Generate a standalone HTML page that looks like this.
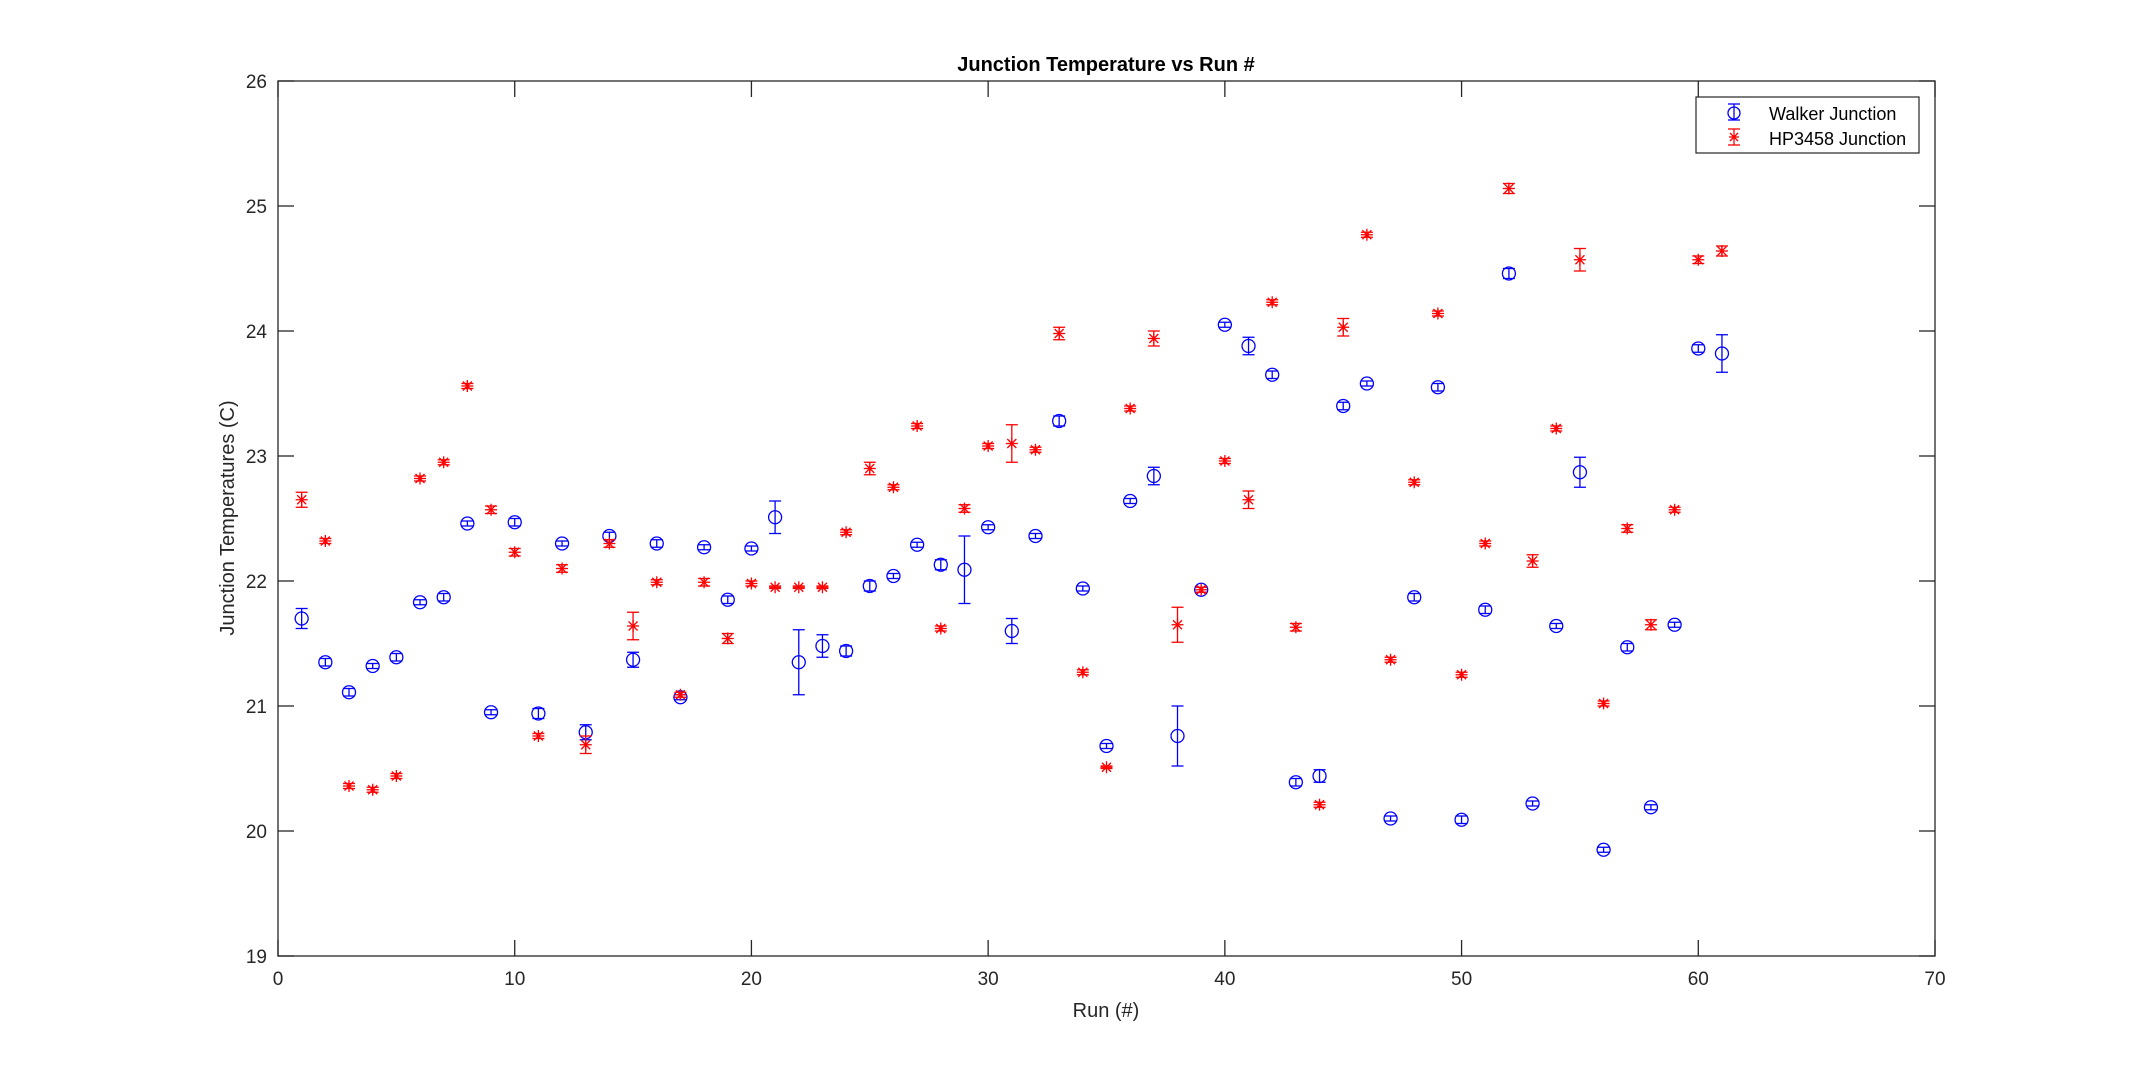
<!DOCTYPE html>
<html><head><meta charset="utf-8"><style>
html,body{margin:0;padding:0;background:#fff;}
svg{display:block;font-family:"Liberation Sans",Arial,sans-serif;}
</style></head><body>
<svg id="s" width="2138" height="1075" xmlns="http://www.w3.org/2000/svg">
<rect x="0" y="0" width="2138" height="1075" fill="#fff"/>
<g id="plot"></g>
<rect x="278" y="81" width="1657" height="875" fill="none" stroke="#262626" stroke-width="1.3"/>
<g id="ticks" stroke="#262626" stroke-width="1.3"></g>
<g id="labels" fill="#262626" font-size="19"></g>
<text x="1106" y="71" text-anchor="middle" font-size="20" font-weight="bold" fill="#000">Junction Temperature vs Run #</text>
<text x="1106" y="1017" text-anchor="middle" font-size="20" fill="#262626">Run (#)</text>
<text transform="translate(234,518) rotate(-90)" text-anchor="middle" font-size="20" fill="#262626">Junction Temperatures (C)</text>
<rect x="1696" y="97" width="223" height="56" fill="#fff" stroke="#262626" stroke-width="1.2"/>
<g stroke="#0000ff" stroke-width="1.3" fill="none">
<line x1="1734" y1="104" x2="1734" y2="120"/><line x1="1728" y1="104" x2="1740" y2="104"/><line x1="1728" y1="120" x2="1740" y2="120"/><circle cx="1734" cy="113" r="6"/></g>
<g stroke="#ff0000" stroke-width="1.3">
<line x1="1734" y1="129" x2="1734" y2="145"/><line x1="1728" y1="129" x2="1740" y2="129"/><line x1="1728" y1="145" x2="1740" y2="145"/>
<line x1="1729" y1="137" x2="1739" y2="137"/><line x1="1730" y1="133" x2="1738" y2="141"/><line x1="1730" y1="141" x2="1738" y2="133"/></g>
<text x="1769" y="120" font-size="18" fill="#000">Walker Junction</text>
<text x="1769" y="145" font-size="18" fill="#000">HP3458 Junction</text>
</svg>
<script>
var X=function(v){return 278+v*1657/70;},Y=function(v){return 956-(v-19)*125;};
var ns="http://www.w3.org/2000/svg";
function el(p,t,a){var e=document.createElementNS(ns,t);for(var k in a)e.setAttribute(k,a[k]);p.appendChild(e);return e;}
var tk=document.getElementById('ticks'),lb=document.getElementById('labels'),pl=document.getElementById('plot');
for(var i=0;i<=70;i+=10){var x=X(i);el(tk,'line',{x1:x,y1:956,x2:x,y2:940});el(tk,'line',{x1:x,y1:81,x2:x,y2:97});
var t=el(lb,'text',{x:x,y:985,'text-anchor':'middle'});t.textContent=i;}
for(var j=19;j<=26;j++){var y=Y(j);el(tk,'line',{x1:278,y1:y,x2:294,y2:y});el(tk,'line',{x1:1935,y1:y,x2:1919,y2:y});
var t=el(lb,'text',{x:267,y:y+7,'text-anchor':'end'});t.textContent=j;}
var W=[[21.70,.08],[21.35,.03],[21.11,.03],[21.32,.02],[21.39,.03],[21.83,.02],[21.87,.03],[22.46,.02],[20.95,.02],[22.47,.03],[20.94,.04],[22.30,.02],[20.79,.06],[22.36,.03],[21.37,.06],[22.30,.03],[21.07,.02],[22.27,.02],[21.85,.03],[22.26,.02],[22.51,.13],[21.35,.26],[21.48,.09],[21.44,.04],[21.96,.04],[22.04,.02],[22.29,.02],[22.13,.04],[22.09,.27],[22.43,.02],[21.60,.10],[22.36,.02],[23.28,.04],[21.94,.02],[20.68,.02],[22.64,.02],[22.84,.07],[20.76,.24],[21.93,.02],[24.05,.02],[23.88,.07],[23.65,.03],[20.39,.03],[20.44,.05],[23.40,.03],[23.58,.02],[20.10,.02],[21.87,.03],[23.55,.03],[20.09,.03],[21.77,.03],[24.46,.04],[20.22,.02],[21.64,.02],[22.87,.12],[19.85,.02],[21.47,.03],[20.19,.02],[21.65,.02],[23.86,.03],[23.82,.15]];
var H=[[22.65,.06],[22.32,.02],[20.36,.02],[20.33,.02],[20.44,.02],[22.82,.02],[22.95,.02],[23.56,.02],[22.57,.03],[22.23,.03],[20.76,.02],[22.10,.03],[20.69,.07],[22.30,.03],[21.64,.11],[21.99,.02],[21.09,.02],[21.99,.03],[21.54,.04],[21.98,.02],[21.95,.01],[21.95,.01],[21.95,.01],[22.39,.02],[22.90,.05],[22.75,.02],[23.24,.02],[21.62,.02],[22.58,.03],[23.08,.02],[23.10,.15],[23.05,.02],[23.98,.05],[21.27,.02],[20.51,.01],[23.38,.02],[23.94,.06],[21.65,.14],[21.93,.02],[22.96,.02],[22.65,.07],[24.23,.02],[21.63,.03],[20.21,.02],[24.03,.07],[24.77,.02],[21.37,.02],[22.79,.02],[24.14,.02],[21.25,.02],[22.30,.02],[25.14,.04],[22.16,.05],[23.22,.02],[24.57,.09],[21.02,.02],[22.42,.03],[21.65,.04],[22.57,.02],[24.57,.03],[24.64,.04]];
function eb(g,x,v,e){var y1=Y(v+e),y2=Y(v-e);el(g,'line',{x1:x,y1:y1,x2:x,y2:y2});el(g,'line',{x1:x-6,y1:y1,x2:x+6,y2:y1});el(g,'line',{x1:x-6,y1:y2,x2:x+6,y2:y2});}
var gw=el(pl,'g',{stroke:'#0000ff','stroke-width':1.3,fill:'none'});
var gh=el(pl,'g',{stroke:'#ff0000','stroke-width':1.3,fill:'none'});
W.forEach(function(d,i){var x=X(i+1);eb(gw,x,d[0],d[1]);el(gw,'circle',{cx:x,cy:Y(d[0]),r:6.5});});
H.forEach(function(d,i){var x=X(i+1),y=Y(d[0]);eb(gh,x,d[0],d[1]);
el(gh,'line',{x1:x-6,y1:y,x2:x+6,y2:y});el(gh,'line',{x1:x,y1:y-6,x2:x,y2:y+6});
el(gh,'line',{x1:x-4.5,y1:y-4.5,x2:x+4.5,y2:y+4.5});el(gh,'line',{x1:x-4.5,y1:y+4.5,x2:x+4.5,y2:y-4.5});});
</script>
</body></html>
